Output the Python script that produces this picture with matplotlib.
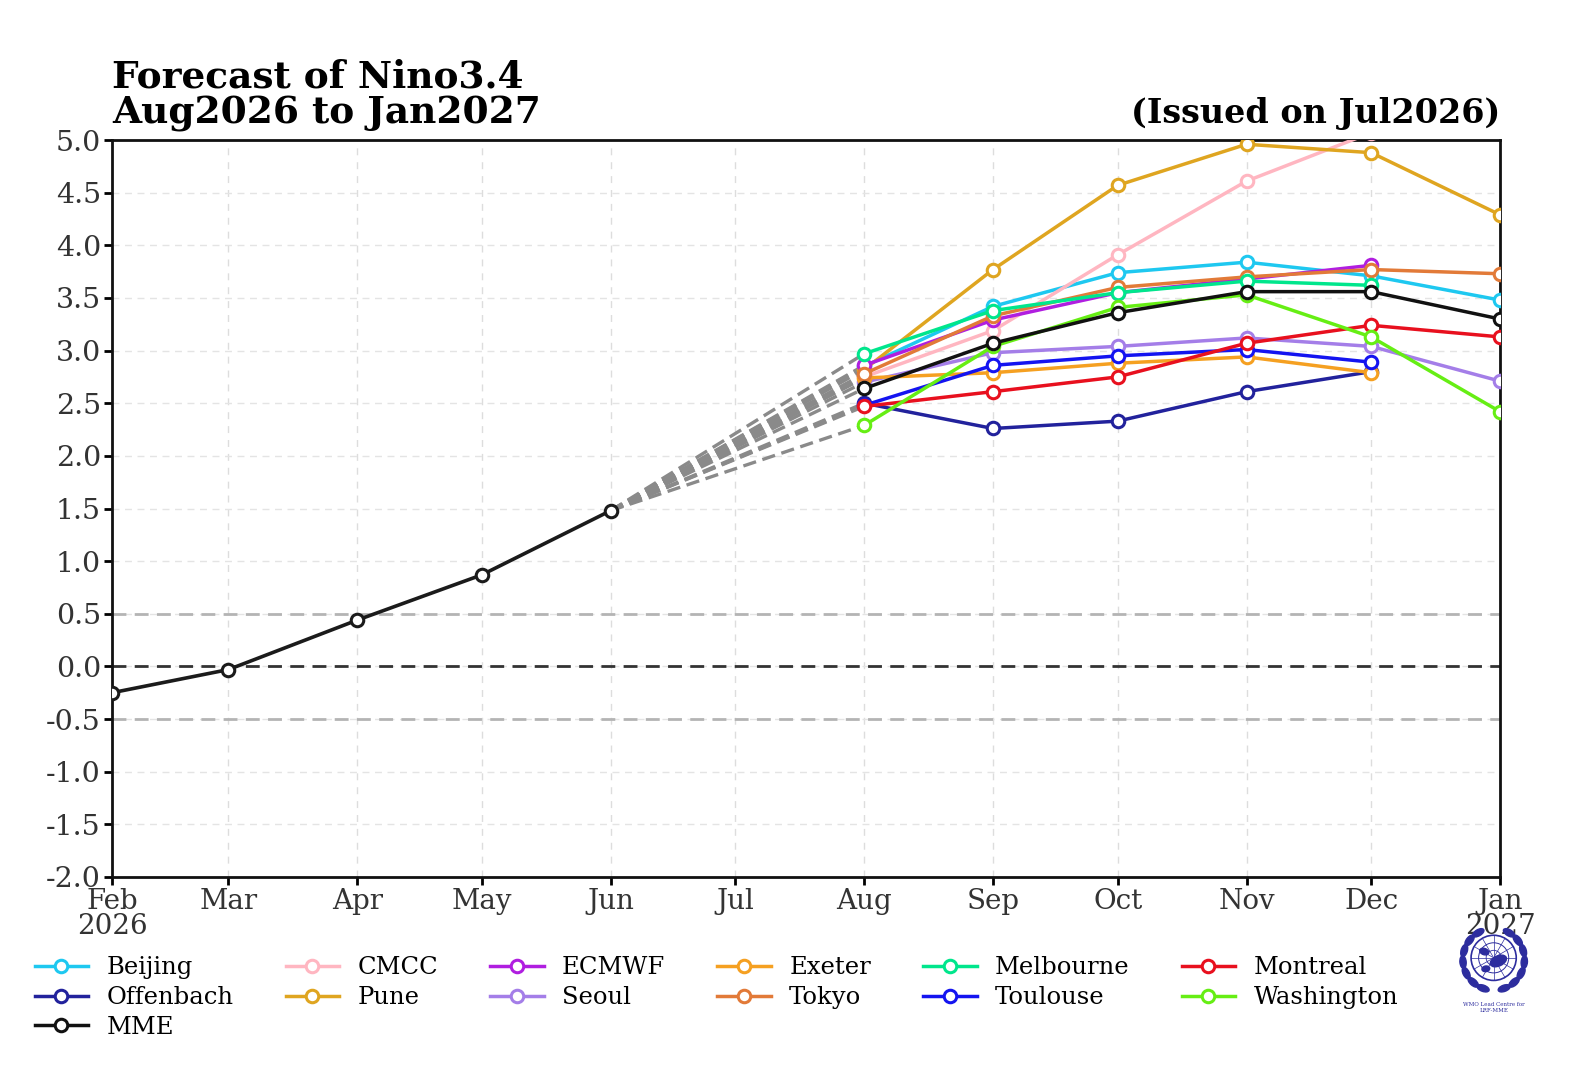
import datetime as dt
import numpy as np
import matplotlib
matplotlib.use("Agg")
import matplotlib.pyplot as plt
from matplotlib.patches import Circle, Ellipse

nan = np.nan

# observed Nino3.4 anomalies
obs_months = [dt.date(2026, m, 1) for m in (2, 3, 4, 5, 6)]
obs_values = [-0.25, -0.03, 0.44, 0.87, 1.48]

# forecast months Aug2026 .. Jan2027
fc_months = [dt.date(2026, 8, 1), dt.date(2026, 9, 1), dt.date(2026, 10, 1),
             dt.date(2026, 11, 1), dt.date(2026, 12, 1), dt.date(2027, 1, 1)]

# legend order (matplotlib fills legend columns top to bottom)
models = ["Beijing", "Offenbach", "MME", "CMCC", "Pune", "ECMWF", "Seoul",
          "Exeter", "Tokyo", "Melbourne", "Toulouse", "Montreal", "Washington"]

forecasts = {
    "Beijing":    [2.85, 3.42, 3.74, 3.84, 3.71, 3.48],
    "Offenbach":  [2.50, 2.26, 2.33, 2.61, 2.80, nan],
    "MME":        [2.64, 3.07, 3.36, 3.56, 3.56, 3.30],
    "CMCC":       [2.75, 3.19, 3.91, 4.61, 5.07, nan],
    "Pune":       [2.82, 3.77, 4.57, 4.96, 4.88, 4.29],
    "ECMWF":      [2.86, 3.29, 3.55, 3.68, 3.81, nan],
    "Seoul":      [2.70, 2.98, 3.04, 3.12, 3.04, 2.71],
    "Exeter":     [2.74, 2.79, 2.88, 2.94, 2.79, nan],
    "Tokyo":      [2.78, 3.33, 3.60, 3.70, 3.77, 3.73],
    "Melbourne":  [2.97, 3.38, 3.55, 3.66, 3.62, nan],
    "Toulouse":   [2.48, 2.86, 2.95, 3.01, 2.89, nan],
    "Montreal":   [2.47, 2.61, 2.75, 3.07, 3.24, 3.13],
    "Washington": [2.29, 3.04, 3.41, 3.53, 3.13, 2.42],
}

colors = {
    "Beijing": "#1ec8f0", "Offenbach": "#22229c", "MME": "#111111",
    "CMCC": "#ffb6c1", "Pune": "#dfa520", "ECMWF": "#b01ee0",
    "Seoul": "#a47ee8", "Exeter": "#f5a021", "Tokyo": "#e27a38",
    "Melbourne": "#00e68c", "Toulouse": "#1414f0", "Montreal": "#e8101e",
    "Washington": "#66ee14",
}

month_ticks = [dt.date(2026, m, 1) for m in range(2, 13)] + [dt.date(2027, 1, 1)]
month_labels = ["Feb\n2026", "Mar", "Apr", "May", "Jun", "Jul", "Aug", "Sep",
                "Oct", "Nov", "Dec", "Jan\n2027"]
y_ticks = np.arange(-2.0, 5.01, 0.5)

plt.rcParams["font.family"] = ["DejaVu Serif"]

fig = plt.figure(figsize=(15.89, 10.89), dpi=100)
ax = fig.add_axes([0.0705, 0.1947, 0.8735, 0.6767])

# background grid
for d in month_ticks:
    ax.axvline(d, color="#dddddd", lw=1.0, ls=(0, (5, 5)), zorder=0)
for y in y_ticks:
    ax.axhline(y, color="#e4e4e4", lw=1.0, ls=(0, (5, 4)), zorder=0)
ax.axhline(0.5, color="#b4b4b4", lw=2.0, ls=(0, (5, 3)), zorder=1)
ax.axhline(-0.5, color="#b4b4b4", lw=2.0, ls=(0, (5, 3)), zorder=1)
ax.axhline(0.0, color="#333333", lw=2.0, ls=(0, (5, 3)), zorder=1)

# dashed links from last observation to first forecast month
for name in models:
    ax.plot([obs_months[-1], fc_months[0]], [obs_values[-1], forecasts[name][0]],
            color="#8a8a8a", lw=2.4, ls=(0, (4, 2)), zorder=2)

mk = dict(marker="o", markersize=9, markerfacecolor="white", markeredgewidth=2.2)

# observations
ax.plot(obs_months, obs_values, color="#1b1b1b", lw=2.6, zorder=4, **mk)

lines = {}
for name in models:
    z = 3.5 if name == "MME" else 3
    lines[name], = ax.plot(fc_months, forecasts[name], color=colors[name],
                           lw=2.5, zorder=z, label=name, **mk)

ax.set_xlim(dt.date(2026, 2, 1), dt.date(2027, 1, 1))
ax.set_ylim(-2.0, 5.0)
ax.set_xticks(month_ticks)
ax.set_xticklabels(month_labels, fontsize=20, color="#333333", linespacing=0.92)
ax.set_yticks(y_ticks)
ax.set_yticklabels(["%.1f" % v for v in y_ticks], fontsize=20.5, color="#333333")
ax.tick_params(direction="out", length=6, width=2, pad=2)
for s in ax.spines.values():
    s.set_linewidth(2)
    s.set_color("#111111")

ax.set_title("Forecast of Nino3.4\nAug2026 to Jan2027", loc="left",
             fontsize=27, fontweight="bold", pad=12, linespacing=0.95)
ax.set_title("(Issued on Jul2026)", loc="right", fontsize=24,
             fontweight="bold", pad=12)

fig.legend([lines[n] for n in models], models, loc="upper left",
           bbox_to_anchor=(0.008, 0.142), ncol=6, frameon=False,
           handlelength=2.2, handletextpad=0.75, columnspacing=2.15,
           labelspacing=0.28, prop={"family": "DejaVu Serif", "size": 17.5})

# rough WMO emblem
lax = fig.add_axes([0.915, 0.083, 0.05, 0.072])
lax.set_xlim(-1.25, 1.25)
lax.set_ylim(-1.25, 1.25)
lax.set_aspect("equal")
lax.axis("off")
blue = "#2d2d9e"
lax.add_patch(Circle((0, 0.05), 0.72, fill=False, ec=blue, lw=1.2))
lax.add_patch(Circle((0, 0.05), 0.48, fill=False, ec=blue, lw=0.7))
lax.add_patch(Circle((0, 0.05), 0.24, fill=False, ec=blue, lw=0.6))
for ang in np.arange(0, 180, 30):
    r = np.deg2rad(ang)
    lax.plot([0.72 * np.cos(r), -0.72 * np.cos(r)],
             [0.05 + 0.72 * np.sin(r), 0.05 - 0.72 * np.sin(r)],
             color=blue, lw=0.5)
lax.add_patch(Ellipse((0.15, -0.05), 0.55, 0.32, angle=25, color=blue))
lax.add_patch(Ellipse((-0.3, 0.25), 0.3, 0.2, angle=-20, color=blue))
lax.add_patch(Ellipse((-0.25, -0.3), 0.25, 0.18, angle=10, color=blue))
for ang in np.linspace(-70, 60, 7):
    for side in (-1, 1):
        r = np.deg2rad(ang)
        lax.add_patch(Ellipse((side * 0.98 * np.cos(r), 0.98 * np.sin(r)),
                              0.2, 0.4, angle=side * ang, color=blue))
fig.text(0.940, 0.080, "WMO Lead Centre for\nLRF-MME", fontsize=4, color=blue,
         ha="center", va="top")

fig.savefig("out.png", dpi=100)
